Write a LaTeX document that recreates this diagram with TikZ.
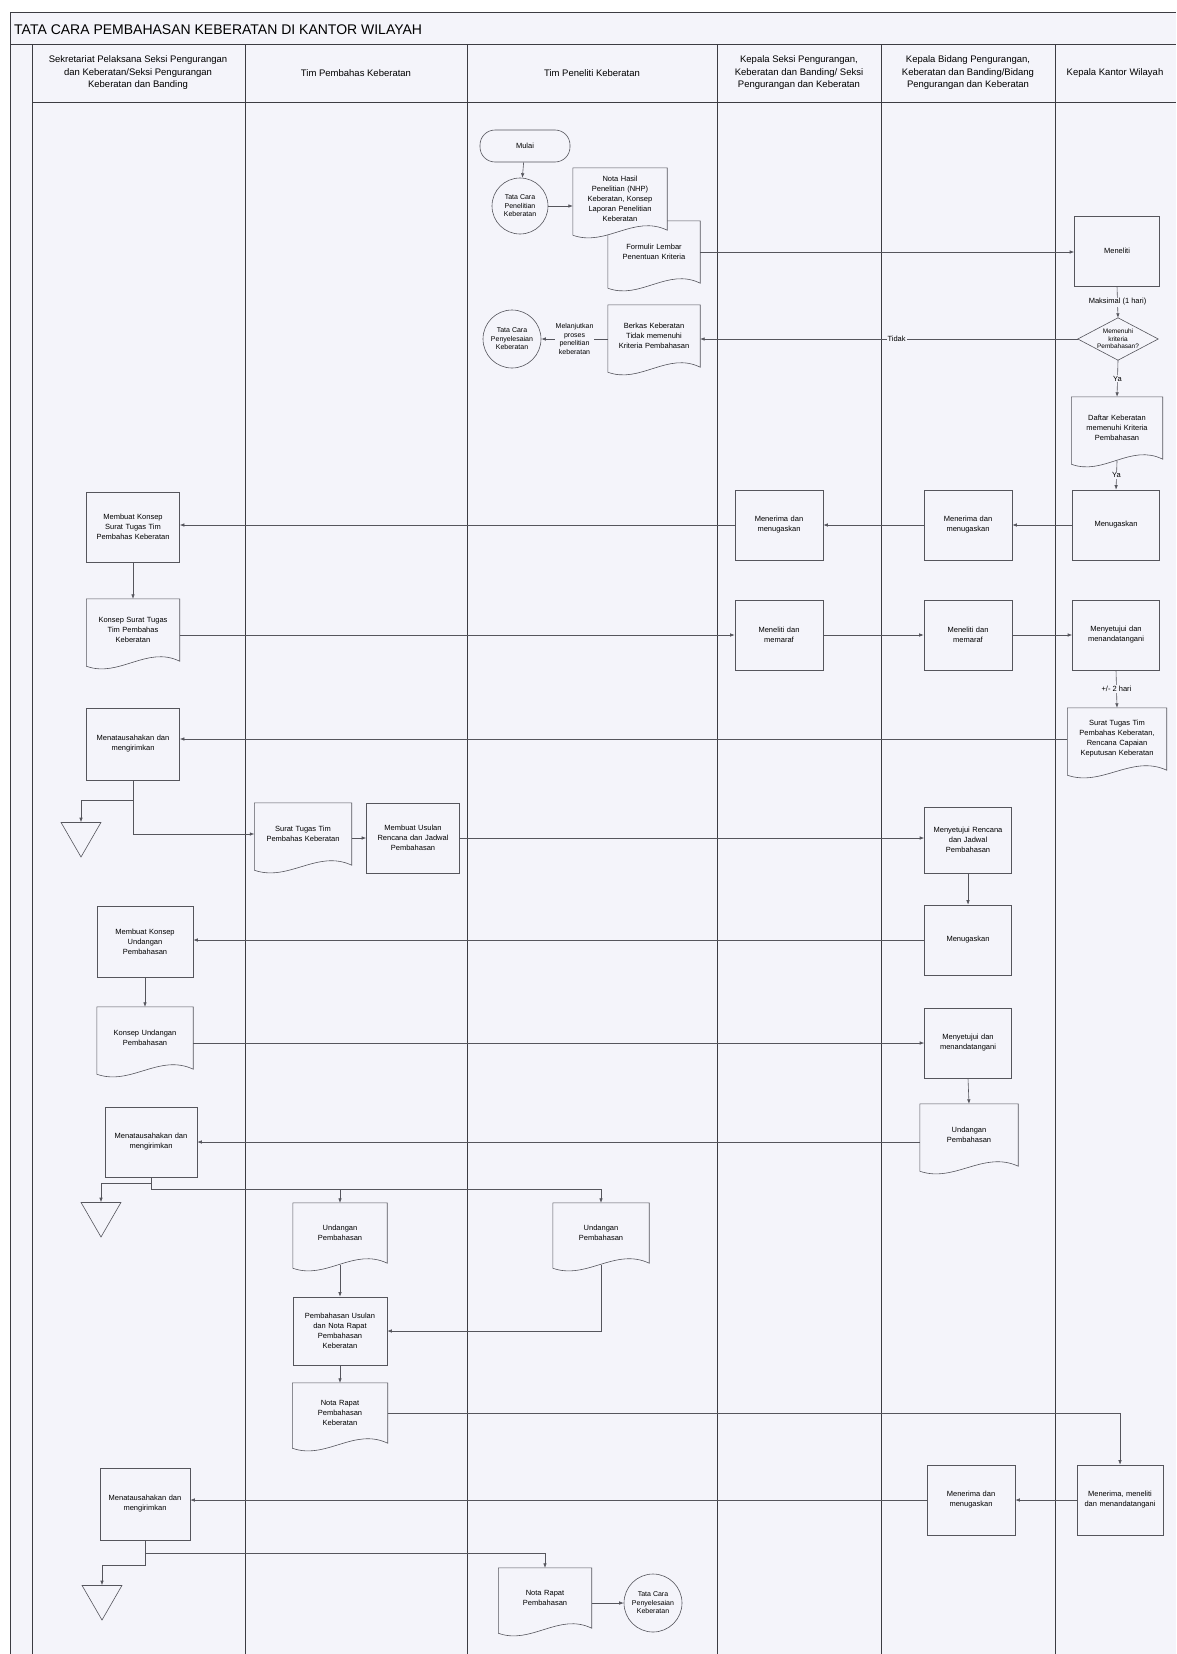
\documentclass[tikz,border=0pt]{standalone}
\usepackage{fontspec}
\setmainfont{Liberation Sans}
\usetikzlibrary{calc,arrows.meta,shapes.geometric}

\definecolor{linec}{RGB}{85,85,92}
\definecolor{lanec}{RGB}{60,60,66}
\definecolor{bgc}{RGB}{244,244,250}
\pgfdeclarelayer{bg}
\pgfsetlayers{bg,main}

\newcommand\boxfont{\fontsize{7.5}{10}\selectfont}
\newcommand\smlfont{\fontsize{7}{8.5}\selectfont}
\newcommand\hdrfont{\fontsize{9.5}{12.5}\selectfont}
\newcommand\ttlfont{\fontsize{14}{16}\selectfont}

% wavy bottom of a document node
\newcommand\docshape[1]{%
\begin{pgfonlayer}{bg}
\draw[ln,fill=bgc] (#1.north west) -- (#1.north east) -- (#1.south east)
  .. controls ($(#1.south east)!0.35!(#1.south west)+(0,-16)$) and ($(#1.south east)!0.65!(#1.south west)+(0,17)$) .. ($(#1.south west)+(0,5)$) -- cycle;
\end{pgfonlayer}}
% decision outline
\newcommand\diashape[1]{%
\begin{pgfonlayer}{bg}
\draw[ln,fill=bgc] (#1.west) -- (#1.north) -- (#1.east) -- (#1.south) -- cycle;
\end{pgfonlayer}}

\tikzset{
  ln/.style={draw=linec, line width=0.6pt},
  arr/.style={ln, -{Latex[length=4.5pt,width=3.5pt]}},
  lane/.style={draw=lanec, line width=1pt},
  proc/.style={rectangle, draw=linec, line width=0.6pt, fill=bgc, minimum width=88, minimum height=70, text width=80, align=center, font=\boxfont, inner sep=2pt},
  docu/.style={rectangle, minimum width=94, minimum height=62, text width=86, align=center, font=\boxfont, inner sep=2pt},
  conn/.style={circle, draw=linec, line width=0.6pt, fill=bgc, minimum size=56, inner sep=0pt, align=center, font=\smlfont},
  term/.style={rectangle, rounded corners=15, draw=linec, line width=0.6pt, fill=bgc, minimum width=90, minimum height=32, font=\boxfont},
  tri/.style={regular polygon, regular polygon sides=3, shape border rotate=180, draw=linec, line width=0.6pt, fill=bgc, minimum size=46, inner sep=0pt},
  dia/.style={rectangle, minimum width=80, minimum height=42, inner sep=0pt, align=center, font=\fontsize{6.5}{7.5}\selectfont},
  lbl/.style={fill=bgc, font=\boxfont, inner sep=1pt},
  hdr/.style={align=center, font=\hdrfont}
}

\begin{document}
\begin{tikzpicture}[x=1pt,y=-1pt]
\useasboundingbox (0,0) rectangle (1176,1654);

% frame and lanes
\begin{pgfonlayer}{bg}
\fill[white] (0,0) rectangle (1176,1654);
\fill[bgc] (10,13) rectangle (1176,1654);
\draw[lane] (10,13) -- (1176,13);
\draw[lane] (10,13) -- (10,1654);
\draw[lane] (10,45) -- (1176,45);
\draw[lane] (32,102) -- (1176,102);
\foreach \x in {32,245,467,717,881,1055}
  \draw[lane] (\x,45) -- (\x,1654);
\end{pgfonlayer}

% title and lane headers
\node[anchor=west, font=\ttlfont, inner sep=0pt] (title) at (14,30) {TATA CARA PEMBAHASAN KEBERATAN DI KANTOR WILAYAH};
\node[hdr] (h1) at (138,73) {Sekretariat Pelaksana Seksi Pengurangan\\dan Keberatan/Seksi Pengurangan\\Keberatan dan Banding};
\node[hdr] (h2) at (356,73) {Tim Pembahas Keberatan};
\node[hdr] (h3) at (592,73) {Tim Peneliti Keberatan};
\node[hdr] (h4) at (799,73) {Kepala Seksi Pengurangan,\\Keberatan dan Banding/ Seksi\\Pengurangan dan Keberatan};
\node[hdr] (h5) at (968,73) {Kepala Bidang Pengurangan,\\Keberatan dan Banding/Bidang\\Pengurangan dan Keberatan};
\node[hdr] (h6) at (1115,73) {Kepala Kantor Wilayah};

% Tim Peneliti Keberatan
\node[term] (mulai) at (525,146) {Mulai};
\node[conn] (tc1) at (520,206) {Tata Cara\\Penelitian\\Keberatan};
\node[docu, minimum width=92] (form) at (654,252) {Formulir Lembar\\Penentuan Kriteria};
\docshape{form}
\node[docu] (nhp) at (620,199) {Nota Hasil\\Penelitian (NHP)\\Keberatan, Konsep\\Laporan Penelitian\\Keberatan};
\docshape{nhp}
\node[docu, minimum width=92] (berkas) at (654,336) {Berkas Keberatan\\Tidak memenuhi\\Kriteria Pembahasan};
\docshape{berkas}
\node[conn, minimum size=58] (tc2) at (512,339) {Tata Cara\\Penyelesaian\\Keberatan};

% Kepala Kantor Wilayah
\node[proc, minimum width=85] (meneliti) at (1117,251) {Meneliti};
\node[dia] (kriteria) at (1118,339) {Memenuhi\\kriteria\\Pembahasan?};
\diashape{kriteria}
\node[docu, minimum width=91, text width=84] (daftar) at (1117,428) {Daftar Keberatan\\memenuhi Kriteria\\Pembahasan};
\docshape{daftar}
\node[proc, minimum width=87] (tugas6) at (1116,525) {Menugaskan};
\node[proc, minimum width=87] (setuju6) at (1116,635) {Menyetujui dan\\menandatangani};
\node[docu, minimum width=99, text width=92] (stk) at (1117,739) {Surat Tugas Tim\\Pembahas Keberatan,\\Rencana Capaian\\Keputusan Keberatan};
\docshape{stk}
\node[proc, minimum width=86] (terima6) at (1120,1500) {Menerima, meneliti\\dan menandatangani};

% Kepala Bidang
\node[proc] (terima5) at (968,525) {Menerima dan\\menugaskan};
\node[proc] (teliti5) at (968,635) {Meneliti dan\\memaraf};
\node[proc, minimum width=87, minimum height=66] (rencana5) at (968,840) {Menyetujui Rencana\\dan Jadwal\\Pembahasan};
\node[proc, minimum width=87] (tugas5) at (968,940) {Menugaskan};
\node[proc, minimum width=87] (setuju5) at (968,1043) {Menyetujui dan\\menandatangani};
\node[docu, minimum width=98] (und5) at (969,1135) {Undangan\\Pembahasan};
\docshape{und5}
\node[proc] (terima5b) at (971,1500) {Menerima dan\\menugaskan};

% Kepala Seksi
\node[proc] (terima4) at (779,525) {Menerima dan\\menugaskan};
\node[proc] (teliti4) at (779,635) {Meneliti dan\\memaraf};

% Sekretariat Pelaksana
\node[proc, minimum width=93] (konsepst) at (133,527) {Membuat Konsep\\Surat Tugas Tim\\Pembahas Keberatan};
\node[docu, minimum width=93, text width=86] (konsepstd) at (133,630) {Konsep Surat Tugas\\Tim Pembahas\\Keberatan};
\docshape{konsepstd}
\node[proc, minimum width=93, minimum height=72] (tu1) at (133,744) {Menatausahakan dan\\mengirimkan};
\node[tri] (tri1) at (81,834) {};
\node[proc, minimum width=96, minimum height=71] (konsepund) at (145,942) {Membuat Konsep\\Undangan\\Pembahasan};
\node[docu, minimum width=96] (konsepundd) at (145,1038) {Konsep Undangan\\Pembahasan};
\docshape{konsepundd}
\node[proc, minimum width=92] (tu2) at (151,1142) {Menatausahakan dan\\mengirimkan};
\node[tri] (tri2) at (101,1214) {};
\node[proc, minimum width=90, minimum height=72] (tu3) at (145,1504) {Menatausahakan dan\\mengirimkan};
\node[tri] (tri3) at (102,1597) {};

% Tim Pembahas Keberatan
\node[docu, minimum width=97] (std) at (303,834) {Surat Tugas Tim\\Pembahas Keberatan};
\docshape{std}
\node[proc, minimum width=93] (usulan) at (413,838) {Membuat Usulan\\Rencana dan Jadwal\\Pembahasan};
\node[docu, minimum width=94, minimum height=60] (und2) at (340,1233) {Undangan\\Pembahasan};
\docshape{und2}
\node[proc, minimum width=94, minimum height=68] (bahas) at (340,1331) {Pembahasan Usulan\\dan Nota Rapat\\Pembahasan\\Keberatan};
\node[docu, minimum width=95, minimum height=60] (nota) at (340,1413) {Nota Rapat\\Pembahasan\\Keberatan};
\docshape{nota}

% Tim Peneliti Keberatan, bottom
\node[docu, minimum width=96, minimum height=60] (und3) at (601,1233) {Undangan\\Pembahasan};
\docshape{und3}
\node[docu, minimum width=93, minimum height=60] (notar) at (545,1598) {Nota Rapat\\Pembahasan};
\docshape{notar}
\node[conn, minimum size=58] (tc3) at (653,1603) {Tata Cara\\Penyelesaian\\Keberatan};

% connectors
\draw[arr] (mulai) -- (tc1);
\draw[arr] (tc1.east) -- (tc1.east -| nhp.west);
\draw[arr] (form.east) -- (form.east -| meneliti.west);
\draw[arr] (meneliti.south) -- node[lbl]{Maksimal (1 hari)} (kriteria.north);
\draw[arr] (kriteria.west) -- node[lbl, pos=0.48]{Tidak} (kriteria.west -| berkas.east);
\draw[arr] (berkas.west |- tc2.east) -- node[lbl, align=center, font=\smlfont]{Melanjutkan\\proses\\penelitian\\keberatan} (tc2.east);
\draw[arr] (kriteria.south) -- node[lbl]{Ya} (daftar.north);
\draw[arr] ($(daftar.south)+(0,2)$) -- node[lbl]{Ya} (tugas6.north);
\draw[arr] (tugas6.west) -- (terima5.east);
\draw[arr] (terima5.west) -- (terima4.east);
\draw[arr] (terima4.west) -- (terima4.west -| konsepst.east);
\draw[arr] (konsepst.south) -- (konsepstd.north);
\draw[arr] (konsepstd.east |- teliti4.west) -- (teliti4.west);
\draw[arr] (teliti4.east) -- (teliti5.west);
\draw[arr] (teliti5.east) -- (setuju6.west);
\draw[arr] (setuju6.south) -- node[lbl]{+/- 2 hari} (stk.north);
\draw[arr] (stk.west) -- (stk.west -| tu1.east);
\draw[arr] (tu1.south) |- (std.west);
\draw[arr] ($(tu1.south)+(0,20)$) -| (tri1.north);
\draw[arr] (std.east |- usulan.west) -- (usulan.west);
\draw[arr] (usulan.east) -- (usulan.east -| rencana5.west);
\draw[arr] (rencana5.south) -- (tugas5.north);
\draw[arr] (tugas5.west) -- (tugas5.west -| konsepund.east);
\draw[arr] (konsepund.south) -- (konsepundd.north);
\draw[arr] (konsepundd.east |- setuju5.west) -- (setuju5.west);
\draw[arr] (setuju5.south) -- (und5.north);
\draw[arr] (und5.west |- tu2.east) -- (tu2.east);
\draw[arr] (tu2.south) -- ++(0,12) -| (und3.north);
\draw[arr] ($(tu2.south)+(0,12)$) -| (und2.north);
\draw[arr] ($(tu2.south)+(0,6)$) -| (tri2.north);
\draw[arr] ($(und2.south)+(0,2)$) -- (bahas.north);
\draw[arr] ($(und3.south)+(0,2)$) |- (bahas.east);
\draw[arr] (bahas.south) -- (nota.north);
\draw[arr] (nota.east) -| (terima6.north);
\draw[arr] (terima6.west) -- (terima5b.east);
\draw[arr] (terima5b.west) -- (terima5b.west -| tu3.east);
\draw[arr] (tu3.south) -- ++(0,25) -| (tri3.north);
\draw[arr] ($(tu3.south)+(0,13)$) -| (notar.north);
\draw[arr] (notar.east |- tc3.west) -- (tc3.west);
\end{tikzpicture}
\end{document}
